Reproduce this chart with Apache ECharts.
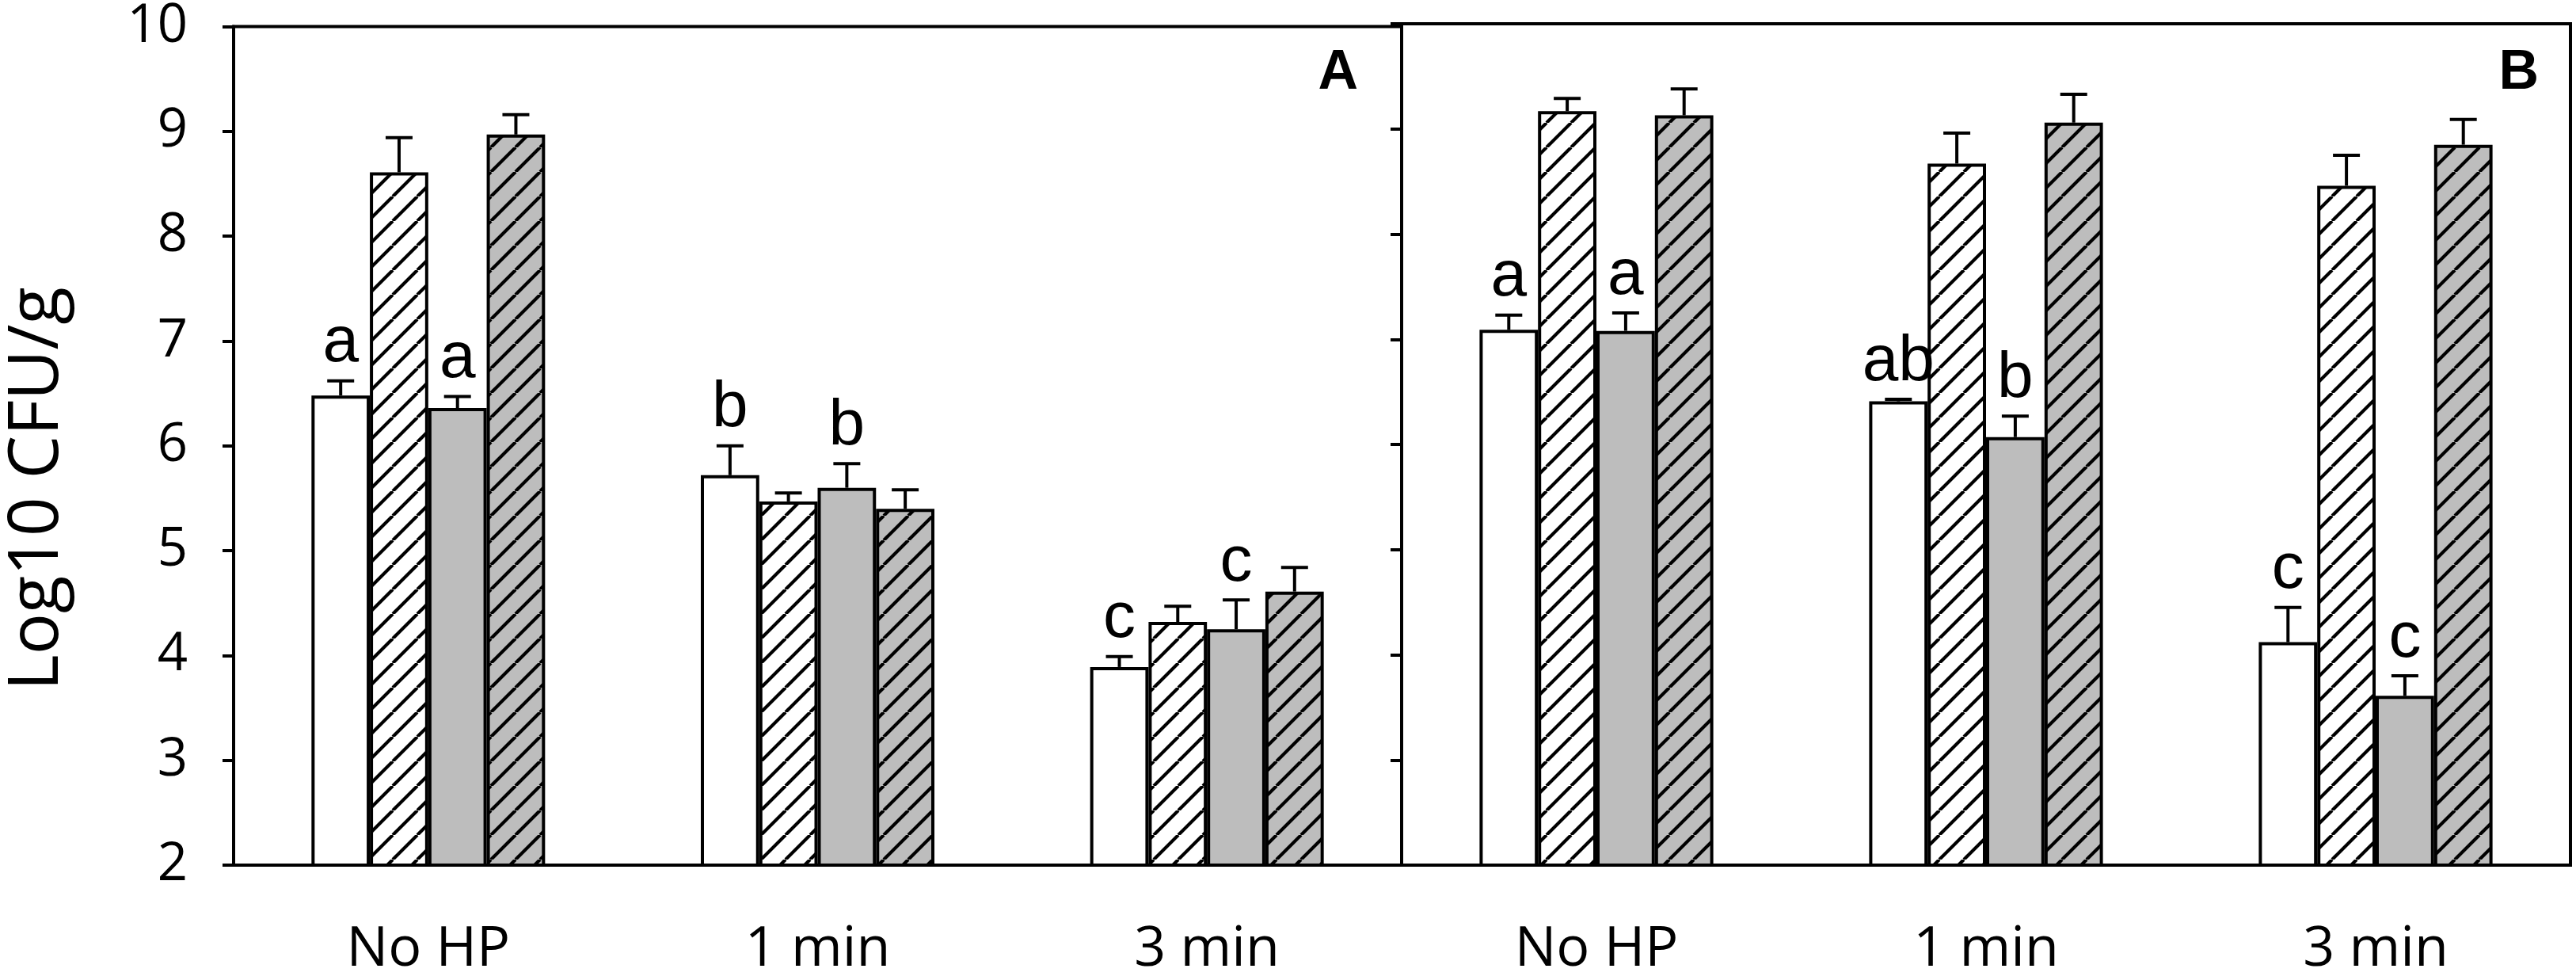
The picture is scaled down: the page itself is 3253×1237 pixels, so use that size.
<!DOCTYPE html>
<html>
<head>
<meta charset="utf-8">
<script src="https://cdn.jsdelivr.net/npm/echarts@6/dist/echarts.min.js"></script>
<style>
  html, body { margin: 0; background: #fff; }
  #chart { width: 3253px; height: 1237px; }
</style>
</head>
<body>
<div id="chart"></div>
<script>
const categories = ["No HP", "1 min", "3 min"];

// panel A
const aPlain = [6.48, 5.72, 3.89];
const aPlainErr = [0.14, 0.28, 0.10];
const aPlainHatch = [8.61, 5.47, 4.32];
const aPlainHatchErr = [0.33, 0.08, 0.15];
const aGray = [6.36, 5.60, 4.25];
const aGrayErr = [0.11, 0.23, 0.28];
const aGrayHatch = [8.97, 5.40, 4.61];
const aGrayHatchErr = [0.19, 0.18, 0.23];
const aPlainLetters = ["a", "b", "c"];
const aGrayLetters = ["a", "b", "c"];

// panel B
const bPlain = [7.09, 6.41, 4.12];
const bPlainErr = [0.14, 0.02, 0.33];
const bPlainHatch = [9.17, 8.67, 8.46];
const bPlainHatchErr = [0.12, 0.29, 0.29];
const bGray = [7.08, 6.07, 3.61];
const bGrayErr = [0.17, 0.20, 0.19];
const bGrayHatch = [9.13, 9.06, 8.85];
const bGrayHatchErr = [0.25, 0.27, 0.24];
const bPlainLetters = ["a", "ab", "c"];
const bGrayLetters = ["a", "b", "c"];

const GRAY = "#bdbdbd";
const numFont = '"Open Sans", sans-serif';
const letterFont = '"Liberation Sans", Arial, sans-serif';

// diagonal "/" hatch tile
const makeHatch = (bg) => {
  const w = 31, h = 31;
  const c = document.createElement("canvas");
  c.width = w;
  c.height = h;
  const ctx = c.getContext("2d");
  ctx.fillStyle = bg;
  ctx.fillRect(0, 0, w, h);
  ctx.strokeStyle = "#000";
  ctx.lineWidth = 4.2;
  ctx.beginPath();
  for (let k = -1; k <= 1; k++) {
    ctx.moveTo(k * w, h);
    ctx.lineTo(k * w + w, 0);
  }
  ctx.stroke();
  return { image: c, repeat: "repeat" };
};

const fills = ["#fff", makeHatch("#fff"), GRAY, makeHatch(GRAY)];

const barSeries = (values, pos, idx) => ({
  type: "bar",
  xAxisIndex: idx,
  yAxisIndex: idx,
  data: values,
  barGap: "0%",
  barCategoryGap: "40%",
  itemStyle: { color: fills[pos], borderColor: "#000", borderWidth: 4 },
  silent: true,
});

const errorSeries = (values, errs, pos, idx, letters) => ({
  type: "custom",
  xAxisIndex: idx,
  yAxisIndex: idx,
  z: 5,
  silent: true,
  data: values.map((v, i) => [i, v, errs[i]]),
  renderItem: function (params, api) {
    const i = api.value(0);
    const v = api.value(1);
    const e = api.value(2);
    const band = api.size([1, 0])[0];
    const bw = (band * 0.6) / 4;
    const base = api.coord([i, v]);
    const top = api.coord([i, v + e]);
    const x = base[0] + (pos - 1.5) * bw;
    const line = { stroke: "#000", lineWidth: 4 };
    const children = [
      { type: "line", shape: { x1: x, y1: base[1], x2: x, y2: top[1] }, style: line },
      { type: "line", shape: { x1: x - 17, y1: top[1], x2: x + 17, y2: top[1] }, style: line },
    ];
    if (letters) {
      children.push({
        type: "text",
        style: {
          text: letters[params.dataIndex],
          x: x,
          y: top[1] - 6,
          align: "center",
          verticalAlign: "bottom",
          font: "82px " + letterFont,
          fill: "#000",
        },
      });
    }
    return { type: "group", children };
  },
});

const xAxisFor = (gridIndex) => ({
  type: "category",
  gridIndex,
  data: categories,
  axisLine: { lineStyle: { color: "#000", width: 4 } },
  axisTick: { alignWithLabel: true, length: 17, lineStyle: { color: "#000", width: 3 } },
  axisLabel: { color: "#000", fontFamily: numFont, fontSize: 70, margin: 72 },
  splitLine: { show: false },
});

const yAxisFor = (gridIndex, labels) => ({
  type: "value",
  gridIndex,
  min: 2,
  max: 10,
  interval: 1,
  axisLine: { show: true, lineStyle: { color: "#000", width: 4 } },
  axisTick: { show: true, length: 14, lineStyle: { color: "#000", width: 4 } },
  axisLabel: { show: labels, color: "#000", fontFamily: numFont, fontSize: 67, margin: 58 },
  splitLine: { show: false },
});

const gridStyle = { show: true, borderColor: "#000", borderWidth: 4, backgroundColor: "transparent" };

const chart = echarts.init(document.getElementById("chart"), null, { renderer: "canvas" });
chart.setOption({
  animation: false,
  backgroundColor: "#fff",
  grid: [
    Object.assign({ left: 295, top: 30, width: 1475, height: 1062 }, gridStyle),
    Object.assign({ left: 1770, top: 30, width: 1476, height: 1062 }, gridStyle),
  ],
  xAxis: [xAxisFor(0), xAxisFor(1)],
  yAxis: [yAxisFor(0, true), yAxisFor(1, false)],
  graphic: [
    {
      type: "text",
      x: 48,
      y: 617,
      rotation: Math.PI / 2,
      style: { text: "Log10 CFU/g", font: "87px " + numFont, fill: "#000", align: "center", verticalAlign: "middle" },
    },
    {
      type: "text",
      x: 1715,
      y: 58,
      style: { text: "A", font: "bold 70px " + letterFont, fill: "#000", align: "right", verticalAlign: "top" },
    },
    {
      type: "text",
      x: 3206,
      y: 58,
      style: { text: "B", font: "bold 70px " + letterFont, fill: "#000", align: "right", verticalAlign: "top" },
    },
  ],
  series: [
    barSeries(aPlain, 0, 0),
    barSeries(aPlainHatch, 1, 0),
    barSeries(aGray, 2, 0),
    barSeries(aGrayHatch, 3, 0),
    barSeries(bPlain, 0, 1),
    barSeries(bPlainHatch, 1, 1),
    barSeries(bGray, 2, 1),
    barSeries(bGrayHatch, 3, 1),
    errorSeries(aPlain, aPlainErr, 0, 0, aPlainLetters),
    errorSeries(aPlainHatch, aPlainHatchErr, 1, 0, null),
    errorSeries(aGray, aGrayErr, 2, 0, aGrayLetters),
    errorSeries(aGrayHatch, aGrayHatchErr, 3, 0, null),
    errorSeries(bPlain, bPlainErr, 0, 1, bPlainLetters),
    errorSeries(bPlainHatch, bPlainHatchErr, 1, 1, null),
    errorSeries(bGray, bGrayErr, 2, 1, bGrayLetters),
    errorSeries(bGrayHatch, bGrayHatchErr, 3, 1, null),
  ],
});
</script>
</body>
</html>
